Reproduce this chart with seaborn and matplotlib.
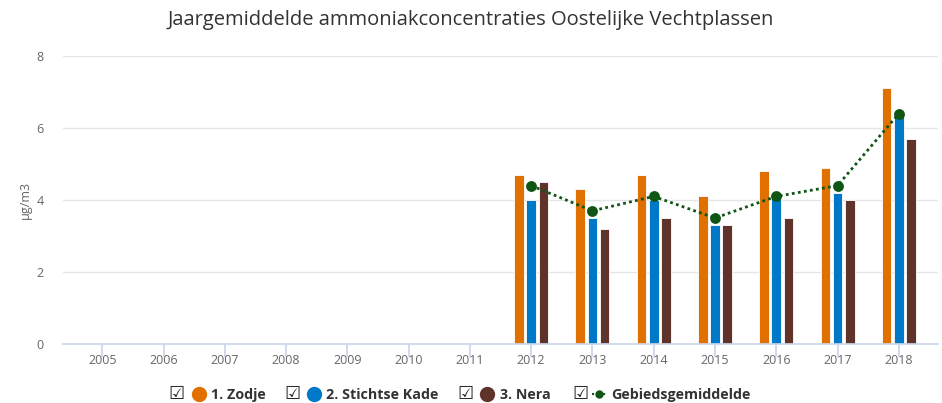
import pandas as pd
import numpy as np
import matplotlib.pyplot as plt
import seaborn as sns
from matplotlib.lines import Line2D

years = [str(y) for y in range(2005, 2019)]
data_years = ["2012", "2013", "2014", "2015", "2016", "2017", "2018"]
stations = ["1. Zodje", "2. Stichtse Kade", "3. Nera"]
zodje = [4.7, 4.3, 4.7, 4.1, 4.8, 4.9, 7.1]
stichtse_kade = [4.0, 3.5, 4.0, 3.3, 4.1, 4.2, 6.4]
nera = [4.5, 3.2, 3.5, 3.3, 3.5, 4.0, 5.7]
gebiedsgemiddelde = [4.4, 3.7, 4.1, 3.5, 4.1, 4.4, 6.4]

colors = ["#e07000", "#0078c8", "#5f3329"]
green = "#0f5514"

df = pd.DataFrame({
    "jaar": data_years * 3,
    "station": np.repeat(stations, len(data_years)),
    "waarde": zodje + stichtse_kade + nera,
})
avg_df = pd.DataFrame({"jaar": data_years, "waarde": gebiedsgemiddelde})

sns.set_theme(style="white")
plt.rcParams["font.family"] = ["Open Sans", "DejaVu Sans"]

fig = plt.figure(figsize=(9.42, 4.03), dpi=100)
ax = fig.add_axes([0.0669, 0.1464, 0.9289, 0.7146])

sns.barplot(data=df, x="jaar", y="waarde", hue="station", order=years,
            hue_order=stations, palette=colors, saturation=1, width=0.6,
            gap=0.22, edgecolor="white", linewidth=0.6, legend=False, ax=ax)
sns.pointplot(data=avg_df, x="jaar", y="waarde", order=years, color=green,
              linestyle=(0, (1, 1.2)), linewidth=2, marker="o", markersize=6.3,
              errorbar=None, ax=ax)

ax.set_xlim(-0.64, 13.64)
ax.set_ylim(0, 8)
ax.set_yticks([0, 2, 4, 6, 8])
ax.yaxis.grid(True, color="#e6e6e6", linewidth=1)
ax.set_axisbelow(True)
for s in ["top", "right", "left"]:
    ax.spines[s].set_visible(False)
ax.spines["bottom"].set_color("#ccd6eb")
ax.tick_params(axis="x", length=9, color="#ccd6eb", labelsize=9,
               labelcolor="#666666", pad=-2, bottom=True)
ax.tick_params(axis="y", length=0, labelsize=9, labelcolor="#666666", pad=14)
ax.set_xlabel("")
ax.set_ylabel("µg/m3", fontsize=9, color="#666666", labelpad=3)

fig.suptitle("Jaargemiddelde ammoniakconcentraties Oostelijke Vechtplassen",
             x=0.5, y=0.975, fontsize=14.5, color="#333333")

handles = [Line2D([], [], marker="o", ls="none", color=c, markersize=10)
           for c in colors]
handles.append(Line2D([], [], marker="o", ls=":", color=green,
                      markersize=5, linewidth=1.5))
labels = stations + ["Gebiedsgemiddelde"]
leg = fig.legend(handles, labels, loc="center", bbox_to_anchor=(0.5, 0.02),
                 ncol=4, frameon=False, handlelength=1.0, handletextpad=0.35,
                 columnspacing=2.9,
                 prop={"weight": "bold", "size": 10.3})
for t in leg.get_texts():
    t.set_color("#333333")

fig.canvas.draw()
renderer = fig.canvas.get_renderer()
inv = fig.transFigure.inverted()
for h in leg.legend_handles:
    bb = h.get_window_extent(renderer)
    x, y = inv.transform((bb.x0 - 8, (bb.y0 + bb.y1) / 2))
    fig.text(x, y, "☑", family="DejaVu Sans", fontsize=13, color="#222222",
             ha="center", va="center")

fig.savefig("out.png", dpi=100)
